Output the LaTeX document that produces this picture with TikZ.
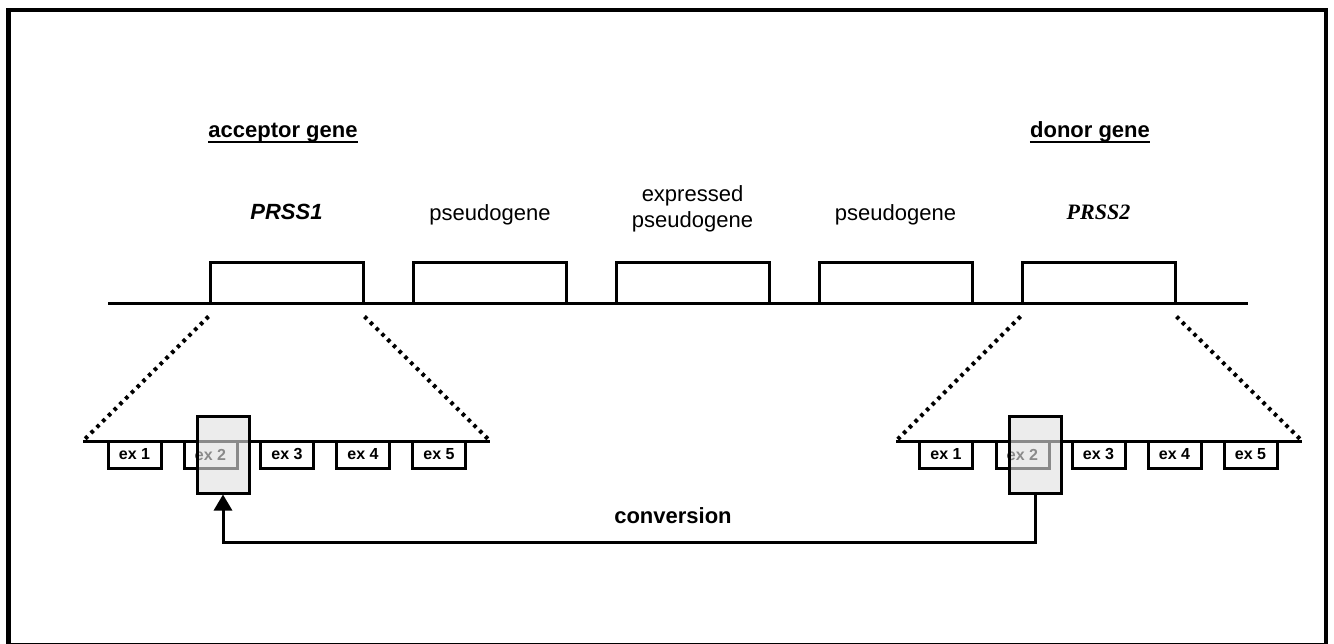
\documentclass[tikz,border=0pt]{standalone}
\usepackage{fontspec}
\setmainfont{Liberation Sans}
\newfontfamily\timesfont{Liberation Serif}
\usetikzlibrary{arrows.meta,calc}
\tikzset{
  lw/.style={line width=3pt},
  genebox/.style={draw, lw, fill=white, minimum width=153pt, minimum height=41pt, inner sep=0pt},
  exonbox/.style={draw, lw, fill=white, minimum width=53pt, minimum height=27pt, inner sep=0pt,
    font=\fontsize{16}{18}\selectfont\bfseries},
  convbox/.style={draw, lw, fill=black!12, fill opacity=0.62, draw opacity=1,
    minimum width=52pt, minimum height=77pt, inner sep=0pt},
  zoomline/.style={line width=4pt, dash pattern=on 3.5pt off 4.6pt},
  label/.style={anchor=base, inner sep=0pt, font=\fontsize{22}{26}\selectfont},
  heading/.style={label, font=\fontsize{22}{26}\selectfont\bfseries},
  uline/.style={line width=2pt},
}
\begin{document}
\begin{tikzpicture}[x=1pt, y=-1pt]
\useasboundingbox (0,0) rectangle (1334,644);
% outer frame
\draw[line width=4.5pt] (8.5,10) rectangle (1326,645.5);

% chromosome and genes
\coordinate (cl) at (108,304);
\coordinate (cr) at (1248,304);
\draw[lw] (cl) -- (cr);
\node[genebox] (g1) at (286.5,283.5) {};
\node[genebox] (g2) at (490,283.5) {};
\node[genebox] (g3) at (692.5,283.5) {};
\node[genebox] (g4) at (895.5,283.5) {};
\node[genebox] (g5) at (1098.5,283.5) {};

% gene names
\node[label, font=\fontsize{22}{26}\selectfont\bfseries\itshape] (n1) at (286.5,220) {PRSS1};
\node[label] (n2) at (490,221) {pseudogene};
\node[label] (n3a) at (692.5,202) {expressed};
\node[label] (n3b) at (692.5,228) {pseudogene};
\node[label] (n4) at (895.5,221) {pseudogene};
\node[label, font=\fontsize{22}{26}\selectfont\timesfont\bfseries\itshape] (n5) at (1098.5,220) {PRSS2};

% headings with underline
\node[heading] (acc) at (283,138) {acceptor gene};
\node[heading] (don) at (1090,138) {donor gene};
\draw[uline] ($(acc.base west)+(0,4)$) -- ($(acc.base east)+(0,4)$);
\draw[uline] ($(don.base west)+(0,4)$) -- ($(don.base east)+(0,4)$);

% exon structure of the acceptor gene
\coordinate (la) at (83,441);
\coordinate (ra) at (490,441);
\draw[zoomline] ($(g1.south west)+(0,11)$) -- (la);
\draw[zoomline] ($(g1.south east)+(0,11)$) -- (ra);
\node[exonbox] (a1) at (134.5,454.5) {ex 1};
\node[exonbox] (a2) at (210.5,454.5) {ex 2};
\node[exonbox] (a3) at (287,454.5) {ex 3};
\node[exonbox] (a4) at (363,454.5) {ex 4};
\node[exonbox] (a5) at (439,454.5) {ex 5};
\draw[lw] (la) -- (ra);

% exon structure of the donor gene
\coordinate (lb) at (896,441);
\coordinate (rb) at (1302,441);
\draw[zoomline] ($(g5.south west)+(0,11)$) -- (lb);
\draw[zoomline] ($(g5.south east)+(0,11)$) -- (rb);
\node[exonbox] (b1) at (946,454.5) {ex 1};
\node[exonbox] (b2) at (1022.5,454.5) {ex 2};
\node[exonbox] (b3) at (1098.5,454.5) {ex 3};
\node[exonbox] (b4) at (1174.5,454.5) {ex 4};
\node[exonbox] (b5) at (1250.5,454.5) {ex 5};
\draw[lw] (lb) -- (rb);

% converted region
\node[convbox] (ca) at (223,454.5) {};
\node[convbox] (cb) at (1035,454.5) {};

% conversion arrow
\coordinate (turn) at (0,542);
\draw[lw, -{Triangle[length=16pt 0 0, width=18pt 0 0]}] (cb.south) -- (cb.south |- turn) -| (ca.south);
\node[heading] (conv) at (673,523) {conversion};
\end{tikzpicture}
\end{document}
